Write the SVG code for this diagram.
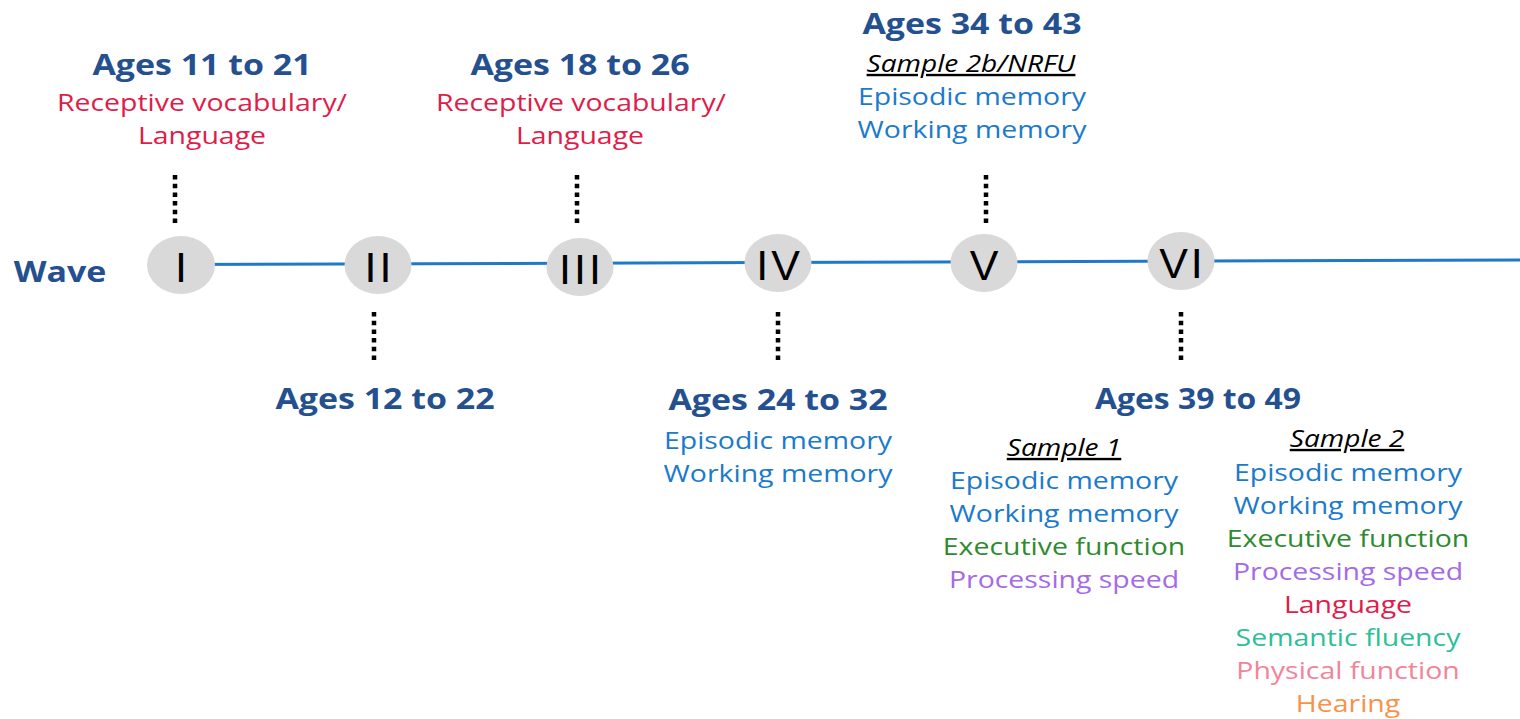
<svg xmlns="http://www.w3.org/2000/svg" width="1520" height="719" viewBox="0 0 1520 719">
<style>
text{font-family:"Open Sans","Noto Sans","Liberation Sans",sans-serif;text-anchor:middle}
.h{font-size:29px;font-weight:700;fill:#25508f}
.t{font-size:24.3px}
.s{font-size:24px;font-style:italic;fill:#000;text-decoration:underline}
.red{fill:#e01c4a}
.blu{fill:#1c7acb}
.grn{fill:#2f8a2f}
.pur{fill:#a66ae6}
.teal{fill:#2cbf98}
.pink{fill:#f2849a}
.org{fill:#f8924a}
.node{fill:#d9d9d9}
.num{font-family:"Liberation Sans",Arial,sans-serif;font-size:43px;fill:#000;letter-spacing:3px}
.dots{stroke:#000;stroke-width:4.5;stroke-dasharray:4.5 4.2;fill:none}
.axis{stroke:#1f78c8;stroke-width:3;fill:none}
</style>
<rect width="1520" height="719" fill="#fff"/>
<g id="connectors">
<line class="axis" x1="181" y1="264.5" x2="1520" y2="260"/>
<line class="dots" x1="175" y1="175" x2="175" y2="223"/>
<line class="dots" x1="374" y1="312" x2="374" y2="360"/>
<line class="dots" x1="577" y1="175" x2="577" y2="223"/>
<line class="dots" x1="778" y1="312" x2="778" y2="360"/>
<line class="dots" x1="986" y1="175" x2="986" y2="223"/>
<line class="dots" x1="1181" y1="312" x2="1181" y2="360"/>
</g>
<g id="wave-label"><text class="h" transform="translate(60 282) scale(1.17 1)" font-size="28">Wave</text></g>
<g id="node-I">
<ellipse class="node" cx="181" cy="265" rx="34" ry="29"/>
<text class="num" transform="translate(182.5 282)">I</text>
<text class="h" transform="translate(202 75) scale(1.17 1)">Ages 11 to 21</text>
<text class="t red" transform="translate(202 111) scale(1.17 1)">Receptive vocabulary/</text>
<text class="t red" transform="translate(202 144) scale(1.17 1)">Language</text>
</g>
<g id="node-II">
<ellipse class="node" cx="378" cy="265" rx="33.5" ry="29"/>
<text class="num" transform="translate(379.5 282)">II</text>
<text class="h" transform="translate(385 409) scale(1.17 1)">Ages 12 to 22</text>
</g>
<g id="node-III">
<ellipse class="node" cx="580" cy="267" rx="33.5" ry="29"/>
<text class="num" transform="translate(581.5 284)">III</text>
<text class="h" transform="translate(580 75) scale(1.17 1)">Ages 18 to 26</text>
<text class="t red" transform="translate(581 111) scale(1.17 1)">Receptive vocabulary/</text>
<text class="t red" transform="translate(580 144) scale(1.17 1)">Language</text>
</g>
<g id="node-IV">
<ellipse class="node" cx="778" cy="263" rx="33.5" ry="29"/>
<text class="num" transform="translate(779.5 280)">IV</text>
<text class="h" transform="translate(778 410) scale(1.17 1)">Ages 24 to 32</text>
<text class="t blu" transform="translate(778 449) scale(1.17 1)">Episodic memory</text>
<text class="t blu" transform="translate(778 482) scale(1.17 1)">Working memory</text>
</g>
<g id="node-V">
<ellipse class="node" cx="984" cy="263" rx="33.5" ry="29"/>
<text class="num" transform="translate(985.5 280)">V</text>
<text class="h" transform="translate(972 34) scale(1.17 1)">Ages 34 to 43</text>
<text class="s" transform="translate(971 72) scale(1.17 1)">Sample 2b/NRFU</text>
<text class="t blu" transform="translate(972 105) scale(1.17 1)">Episodic memory</text>
<text class="t blu" transform="translate(972 138) scale(1.17 1)">Working memory</text>
</g>
<g id="node-VI">
<ellipse class="node" cx="1181" cy="261" rx="33.5" ry="29"/>
<text class="num" transform="translate(1182.5 278)">VI</text>
<text class="h" transform="translate(1198 409) scale(1.1 1)">Ages 39 to 49</text>
<text class="s" transform="translate(1064 456) scale(1.17 1)">Sample 1</text>
<text class="t blu" transform="translate(1064 489) scale(1.17 1)">Episodic memory</text>
<text class="t blu" transform="translate(1064 522) scale(1.17 1)">Working memory</text>
<text class="t grn" transform="translate(1064 555) scale(1.17 1)">Executive function</text>
<text class="t pur" transform="translate(1064 588) scale(1.17 1)">Processing speed</text>
<text class="s" transform="translate(1347 447) scale(1.17 1)">Sample 2</text>
<text class="t blu" transform="translate(1348 481) scale(1.17 1)">Episodic memory</text>
<text class="t blu" transform="translate(1348 514) scale(1.17 1)">Working memory</text>
<text class="t grn" transform="translate(1348 547) scale(1.17 1)">Executive function</text>
<text class="t pur" transform="translate(1348 580) scale(1.17 1)">Processing speed</text>
<text class="t red" transform="translate(1348 613) scale(1.17 1)">Language</text>
<text class="t teal" transform="translate(1348 646) scale(1.17 1)">Semantic fluency</text>
<text class="t pink" transform="translate(1348 679) scale(1.17 1)">Physical function</text>
<text class="t org" transform="translate(1348 712) scale(1.17 1)">Hearing</text>
</g>
</svg>
